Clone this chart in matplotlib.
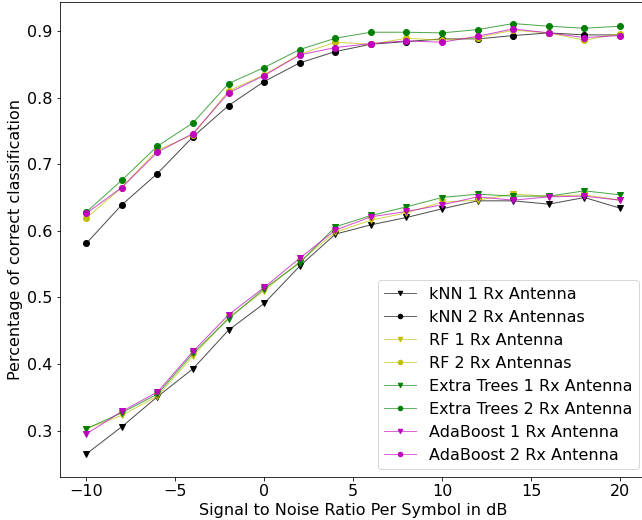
import numpy as np
import matplotlib
matplotlib.use("Agg")
import matplotlib.pyplot as plt
from matplotlib.colors import to_rgba

# DATA

snr = [-10, -8, -6, -4, -2, 0, 2, 4, 6, 8, 10, 12, 14, 16, 18, 20]

knn_1rx = [0.265, 0.306, 0.351, 0.393, 0.451, 0.491, 0.547, 0.595, 0.609, 0.620, 0.633, 0.645, 0.645, 0.640, 0.650, 0.634]
knn_2rx = [0.581, 0.639, 0.686, 0.741, 0.788, 0.824, 0.852, 0.869, 0.880, 0.884, 0.888, 0.888, 0.893, 0.897, 0.894, 0.894]
rf_1rx = [0.303, 0.323, 0.352, 0.412, 0.470, 0.510, 0.554, 0.598, 0.616, 0.627, 0.643, 0.646, 0.655, 0.652, 0.654, 0.646]
rf_2rx = [0.619, 0.665, 0.721, 0.744, 0.810, 0.834, 0.865, 0.883, 0.880, 0.889, 0.886, 0.890, 0.901, 0.897, 0.886, 0.896]
et_1rx = [0.303, 0.327, 0.355, 0.416, 0.468, 0.513, 0.552, 0.606, 0.623, 0.636, 0.650, 0.655, 0.652, 0.652, 0.660, 0.654]
et_2rx = [0.628, 0.676, 0.727, 0.762, 0.821, 0.845, 0.872, 0.889, 0.898, 0.898, 0.897, 0.902, 0.911, 0.907, 0.904, 0.907]
ada_1rx = [0.295, 0.329, 0.358, 0.419, 0.474, 0.515, 0.559, 0.601, 0.621, 0.629, 0.639, 0.651, 0.646, 0.651, 0.652, 0.646]
ada_2rx = [0.626, 0.665, 0.718, 0.746, 0.807, 0.833, 0.864, 0.875, 0.881, 0.885, 0.883, 0.892, 0.903, 0.897, 0.890, 0.893]

labels = ['kNN 1 Rx Antenna', 'kNN 2 Rx Antennas', 'RF 1 Rx Antenna', 'RF 2 Rx Antennas',
          'Extra Trees 1 Rx Antenna', 'Extra Trees 2 Rx Antenna',
          'AdaBoost 1 Rx Antenna', 'AdaBoost 2 Rx Antenna']

# PLOT

plt.rcParams['font.size'] = 16

fig = plt.figure(figsize=(642 / 72, 520 / 72), dpi=72)
# right spine falls just off the canvas, as in the reference crop
ax = fig.add_axes([0.0927, 0.0827, 0.9146, 0.9135])

series = [
    (knn_1rx, 'k', 'v'), (knn_2rx, 'k', 'o'),
    (rf_1rx, 'y', 'v'), (rf_2rx, 'y', 'o'),
    (et_1rx, 'g', 'v'), (et_2rx, 'g', 'o'),
    (ada_1rx, 'm', 'v'), (ada_2rx, 'm', 'o'),
]

handles = []
for (vals, col, mk), lab in zip(series, labels):
    ax.plot(snr, vals, color=to_rgba(col, 0.7), linewidth=1, marker=mk, markersize=6,
            markerfacecolor=col, markeredgecolor=col)
    # legend entry with smaller markers
    h, = ax.plot([], [], color=to_rgba(col, 0.6), linewidth=1, marker=mk, markersize=4.5,
                 markerfacecolor=col, markeredgecolor=col, label=lab)
    handles.append(h)

ax.legend(handles=handles, loc='lower right', fontsize=16, handlelength=2.0)

ax.set_xlabel('Signal to Noise Ratio Per Symbol in dB')
ax.set_ylabel('Percentage of correct classification')
ax.set_xlim(-11.5, 21.5)
ax.set_ylim(0.2306, 0.9434)
ax.set_yticks([0.3, 0.4, 0.5, 0.6, 0.7, 0.8, 0.9])

fig.savefig('out.png', dpi=72)
